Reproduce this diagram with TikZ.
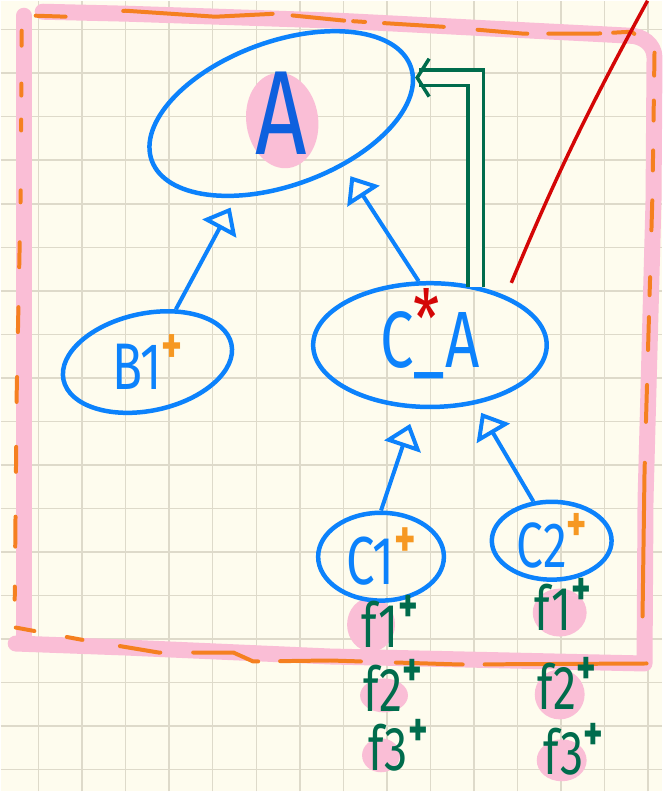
\documentclass[tikz,border=0pt]{standalone}
\usepackage{fontspec}
\setsansfont{Fira Sans}
\usepackage{graphicx}
\usetikzlibrary{arrows.meta,shapes.geometric}

\definecolor{paper}{RGB}{254,252,238}
\definecolor{gridgray}{RGB}{222,218,202}
\definecolor{pinkhl}{RGB}{250,190,214}
\definecolor{dashorange}{RGB}{245,128,32}
\definecolor{plusorange}{RGB}{246,152,34}
\definecolor{classblue}{RGB}{12,130,252}
\definecolor{inkblue}{RGB}{14,96,222}
\definecolor{ovgreen}{RGB}{0,108,76}
\definecolor{linkred}{RGB}{212,6,6}

% handwriting-ish text: big, a bit narrow
\newcommand\hand[2]{\fontsize{#1}{#1}\selectfont\scalebox{.75}[1]{#2}}
\newcommand\plusmark[1]{\raisebox{.4em}{\color{#1}\bfseries\scalebox{.8}{+}}}

\begin{document}
\begin{tikzpicture}[x=1pt,y=1pt,
  cls/.style={ellipse,draw=classblue,line width=4.5pt,inner sep=0pt,
    text=classblue,font=\sffamily},
  member/.style={inner sep=0pt,text=ovgreen,font=\sffamily},
  inherit/.style={draw=classblue,line width=4pt,
    -{Triangle[open,length=24pt,width=38pt]}},
  overrides/.style={draw=ovgreen,line width=3.5pt,double=paper,
    double distance=12pt,-{Straight Barb[length=12pt,width=38pt]}},
  marker/.style={draw=pinkhl,line width=16pt,line cap=round,line join=round},
  dashline/.style={draw=dashorange,line width=4pt,line cap=round}]

  % squared paper
  \fill[paper] (0,0) rectangle (663,792);
  \foreach \i in {0,...,14}
    \draw[gridgray,line width=1.5pt] ({38+43.6*\i},0) -- ++(0,792);
  \foreach \j in {0,...,17}
    \draw[gridgray,line width=1.5pt] (0,{763-43.6*\j}) -- ++(663,0);
  \useasboundingbox (0,0) rectangle (663,792);

  % highlighted frame
  \draw[marker] (23,777) -- (23,148);
  \draw[marker] (15,148) -- (125,144) -- (330,135) -- (645,128) -- (646,292)
    -- (654,592) -- (655,735) to[out=90,in=0] (630,757) -- (592,759)
    -- (338,772) -- (127,779) -- (42,781);

  % dashed frame on top of it
  \draw[dashline,dash pattern=on 30pt off 58pt on 150pt off 20pt on 52pt off 9pt
      on 12pt off 19pt on 60pt off 34pt on 50pt off 21pt on 52pt off 13pt on 22pt off 30pt]
    (35,777) -- (66,776) -- (125,782) -- (215,776) -- (275,779) -- (345,772)
    -- (442,766) -- (524,759) -- (596,759) -- (632,761) -- (648,748);
  \draw[dashline,dash pattern=on 23pt off 25pt on 20pt off 30pt on 20pt off 30pt
      on 30pt off 47pt on 18pt off 22pt on 33pt off 35pt on 37pt off 41pt on 154pt off 100pt]
    (655,740) -- (653,600) -- (645,320) -- (643,175) -- (643,132);
  \draw[dashline,dash pattern=on 19pt off 33pt on 16pt off 38pt on 41pt off 33pt
      on 67pt off 22pt on 81pt off 35pt on 67pt off 22pt on 170pt off 10pt]
    (15,164) -- (80,152) -- (158,139) -- (233,139) -- (253,130) -- (330,131)
    -- (460,127) -- (647,128);
  \draw[dashline,dash pattern=on 15pt off 38pt on 12pt off 24pt on 11pt off 60pt
      on 12pt off 40pt on 25pt off 40pt on 25pt off 45pt on 25pt off 45pt
      on 25pt off 45pt on 30pt off 40pt on 40pt off 30pt]
    (21,762) -- (20,600) -- (16,400) -- (14,192);

  % marker blobs under the letters
  \fill[pinkhl,rotate around={8:(282,672)}] (282,672) ellipse [x radius=36pt,y radius=48pt];
  \fill[pinkhl] (371,167) ellipse [x radius=24pt,y radius=27pt];
  \fill[pinkhl] (384,96) ellipse [x radius=24pt,y radius=17pt];
  \fill[pinkhl] (381,36) ellipse [x radius=19pt,y radius=17pt];
  \fill[pinkhl] (560,179) ellipse [x radius=27pt,y radius=24pt];
  \fill[pinkhl] (560,97) ellipse [x radius=25pt,y radius=25pt];
  \fill[pinkhl] (562,31) ellipse [x radius=25pt,y radius=21pt];

  % classes
  \node[cls,rotate=20,minimum width=276pt,minimum height=144pt] (a) at (281,679)
    {\rotatebox{-20}{\hand{120}{\color{inkblue}A}}};
  \node[cls,minimum width=234pt,minimum height=124pt] (ca) at (430,447)
    {\hand{80}{C\rlap{\smash{\raisebox{.25em}{\color{linkred}*}}}\_A}};
  \node[cls,rotate=12,minimum width=172pt,minimum height=80pt] (b1) at (147,430)
    {\rotatebox{-12}{\hand{66}{B1\plusmark{plusorange}}}};
  \node[cls,minimum width=126pt,minimum height=88pt] (c1) at (381,235)
    {\hand{68}{C1\plusmark{plusorange}}};
  \node[cls,minimum width=120pt,minimum height=78pt] (c2) at (552,251)
    {\hand{64}{C2\plusmark{plusorange}}};

  % members
  \node[member] (c1f1) at (390,170) {\hand{62}{f1\plusmark{ovgreen}}};
  \node[member] (c1f2) at (393,106) {\hand{62}{f2\plusmark{ovgreen}}};
  \node[member] (c1f3) at (398,46) {\hand{62}{f3\plusmark{ovgreen}}};
  \node[member] (c2f1) at (563,187) {\hand{62}{f1\plusmark{ovgreen}}};
  \node[member] (c2f2) at (567,108) {\hand{62}{f2\plusmark{ovgreen}}};
  \node[member] (c2f3) at (574,42) {\hand{62}{f3\plusmark{ovgreen}}};

  % inheritance
  \draw[inherit,shorten >=11pt] (b1) -- (a);
  \draw[inherit,shorten >=12pt] (ca.100) -- (a.-60);
  \draw[inherit,shorten >=16pt] (c1.north) -- (ca.-103);
  \draw[inherit,shorten >=10pt] (c2.115) -- (ca.-52);

  \draw[overrides] ([shift={(46pt,-6pt)}]ca.north) |- (a.-5);

  \coordinate (exit) at (648,792);
  \draw[linkred,line width=3.5pt,shorten <=14pt] (ca.33) to[bend left=3] (exit);
\end{tikzpicture}
\end{document}
